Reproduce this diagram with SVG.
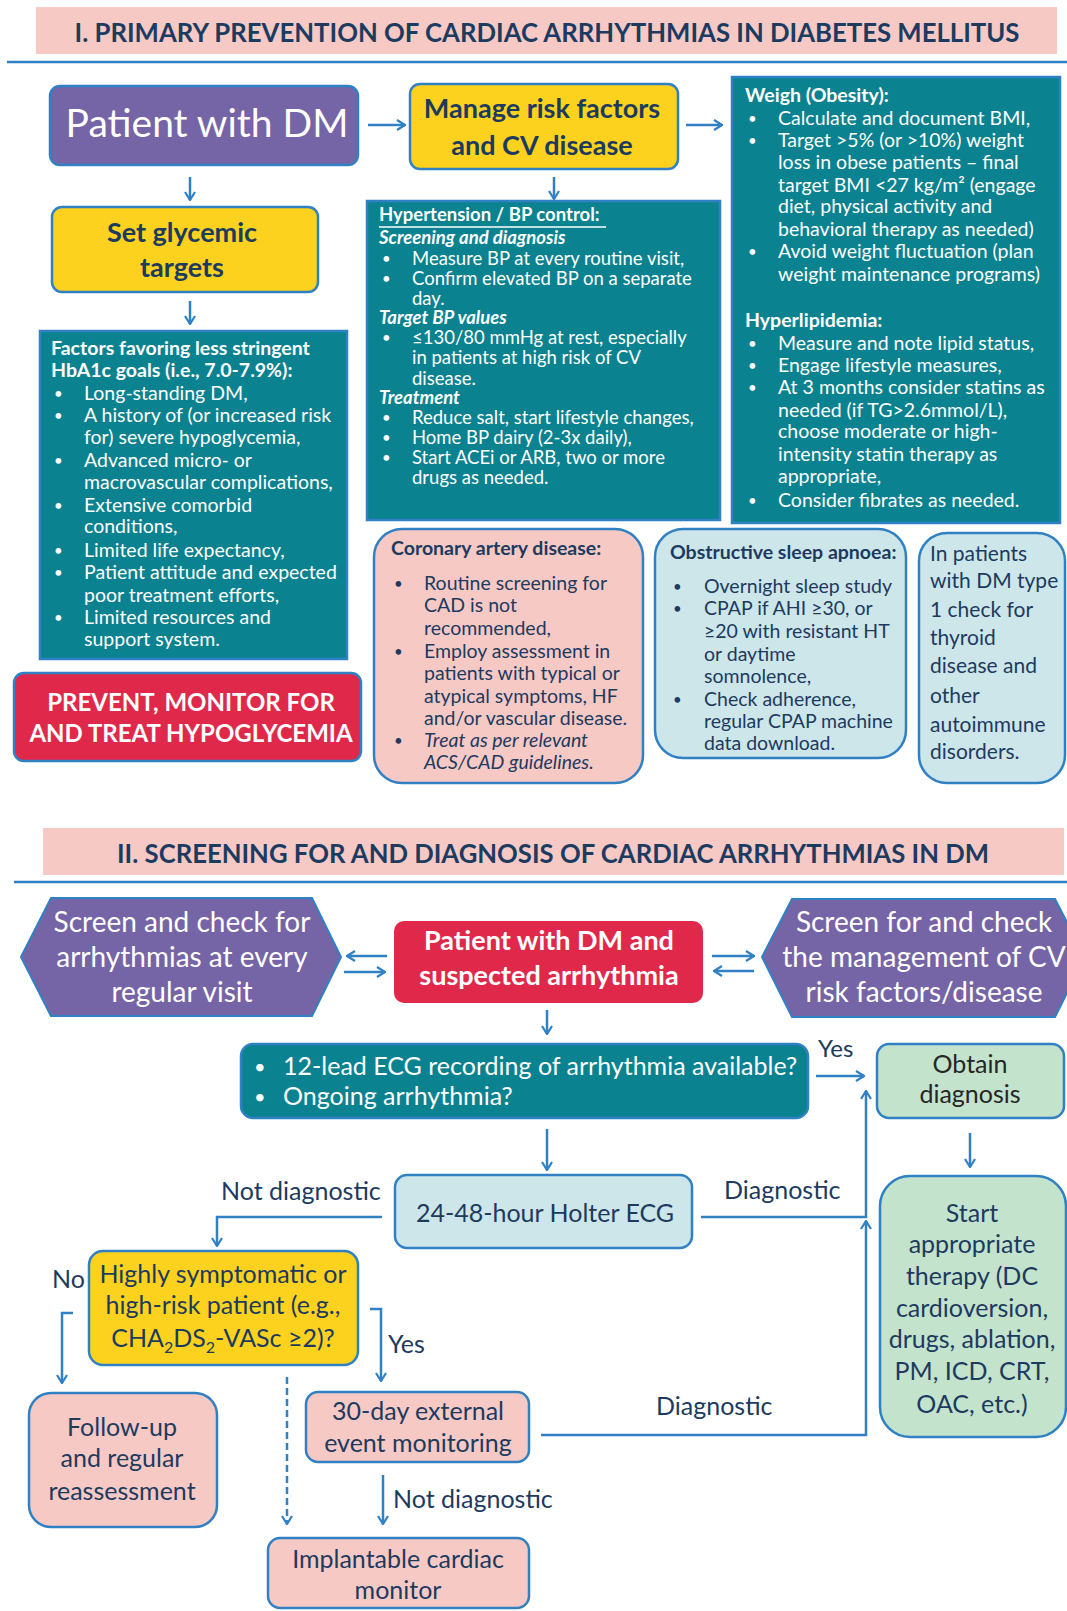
<svg xmlns="http://www.w3.org/2000/svg" width="1067" height="1611" viewBox="0 0 1067 1611">
<style>
text{font-family:Lato,"Liberation Sans",sans-serif}
.ttl{font-size:27px;font-weight:700;fill:#1c3b61}
.band{fill:#f6c9c5}
.rule{stroke:#3080c4;stroke-width:2.5}
.bx{stroke:#3080c4;stroke-width:2.5}
.purple{fill:#7564a6}
.yellow{fill:#fcd21f}
.teal{fill:#0b8290}
.red{fill:#e0294a}
.pink{fill:#f6c9c5}
.lblue{fill:#cde6ea}
.green{fill:#c3e3cc}
.w{fill:#fff}
.n{fill:#1d3a5f}
.dk{fill:#262626}
.b{font-weight:700}
.bi{font-weight:700;font-style:italic}
.i{font-style:italic}
.s19{font-size:19.5px}
.s19 .bu{font-size:15px}
.s18{font-size:18.5px}
.s18 .bu{font-size:15px}
.s21{font-size:21px}
.s25{font-size:25px}
.s27{font-size:27px}
.s28{font-size:28px}
.mid{text-anchor:middle}
.ln{fill:none;stroke:#3080c4;stroke-width:2.5}
.dash{stroke-dasharray:7 4}
</style>
<defs>
<marker id="arr" viewBox="0 0 10 12" refX="9" refY="6" markerWidth="10" markerHeight="12" orient="auto" markerUnits="userSpaceOnUse">
<path d="M1,1 L9,6 L1,11" fill="none" stroke="#3080c4" stroke-width="2.2"/>
</marker>
</defs>

<!-- Section I header -->
<g id="header1">
<rect class="band" x="36" y="7" width="1021" height="47"/>
<text class="ttl" x="547" y="42" text-anchor="middle" textLength="945" lengthAdjust="spacingAndGlyphs">I. PRIMARY PREVENTION OF CARDIAC ARRHYTHMIAS IN DIABETES MELLITUS</text>
<line class="rule" x1="7" y1="62" x2="1067" y2="62"/>
</g>

<g id="patient-dm">
<rect class="bx purple" x="50" y="86" width="308" height="79" rx="10"/>
<text class="w mid" x="207" y="137" font-size="39">Patient with DM</text>
</g>

<g id="manage-risk">
<rect class="bx yellow" x="410" y="84" width="268" height="85" rx="10"/>
<text class="n b mid s27" x="542" y="118">Manage risk factors</text>
<text class="n b mid s27" x="542" y="155">and CV disease</text>
</g>

<g id="weigh-lipid">
<rect class="bx teal" x="732" y="77" width="328" height="446"/>
<g class="w s19">
<text class="b" x="745" y="102">Weigh (Obesity):</text>
<text class="bu" x="748" y="124">•</text><text x="778" y="125">Calculate and document BMI,</text>
<text class="bu" x="748" y="146">•</text><text x="778" y="147">Target &gt;5% (or &gt;10%) weight</text>
<text x="778" y="169">loss in obese patients – final</text>
<text x="778" y="192">target BMI &lt;27 kg/m² (engage</text>
<text x="778" y="213">diet, physical activity and</text>
<text x="778" y="236">behavioral therapy as needed)</text>
<text class="bu" x="748" y="257">•</text><text x="778" y="258">Avoid weight fluctuation (plan</text>
<text x="778" y="281">weight maintenance programs)</text>
<text class="b" x="745" y="327">Hyperlipidemia:</text>
<text class="bu" x="748" y="349">•</text><text x="778" y="350">Measure and note lipid status,</text>
<text class="bu" x="748" y="371">•</text><text x="778" y="372">Engage lifestyle measures,</text>
<text class="bu" x="748" y="393">•</text><text x="778" y="394">At 3 months consider statins as</text>
<text x="778" y="417">needed (if TG&gt;2.6mmol/L),</text>
<text x="778" y="438">choose moderate or high-</text>
<text x="778" y="461">intensity statin therapy as</text>
<text x="778" y="483">appropriate,</text>
<text class="bu" x="748" y="506">•</text><text x="778" y="507">Consider fibrates as needed.</text>
</g>
</g>

<g id="set-glycemic">
<rect class="bx yellow" x="52" y="207" width="266" height="85" rx="10"/>
<text class="n b mid s27" x="182" y="242">Set glycemic</text>
<text class="n b mid s27" x="182" y="277">targets</text>
</g>

<g id="factors">
<rect class="bx teal" x="40" y="331" width="307" height="328"/>
<g class="w s19">
<text class="b" x="51" y="355">Factors favoring less stringent</text>
<text class="b" x="51" y="377">HbA1c goals (i.e., 7.0-7.9%):</text>
<text class="bu" x="54" y="399">•</text><text x="84" y="400">Long-standing DM,</text>
<text class="bu" x="54" y="421">•</text><text x="84" y="422">A history of (or increased risk</text>
<text x="84" y="444">for) severe hypoglycemia,</text>
<text class="bu" x="54" y="466">•</text><text x="84" y="467">Advanced micro- or</text>
<text x="84" y="489">macrovascular complications,</text>
<text class="bu" x="54" y="511">•</text><text x="84" y="512">Extensive comorbid</text>
<text x="84" y="533">conditions,</text>
<text class="bu" x="54" y="556">•</text><text x="84" y="557">Limited life expectancy,</text>
<text class="bu" x="54" y="578">•</text><text x="84" y="579">Patient attitude and expected</text>
<text x="84" y="602">poor treatment efforts,</text>
<text class="bu" x="54" y="623">•</text><text x="84" y="624">Limited resources and</text>
<text x="84" y="646">support system.</text>
</g>
</g>

<g id="prevent-hypo">
<rect class="bx red" x="14" y="673" width="347" height="88" rx="10"/>
<text class="w b mid" x="191" y="711" font-size="24">PREVENT, MONITOR FOR</text>
<text class="w b mid" x="191" y="742" font-size="24">AND TREAT HYPOGLYCEMIA</text>
</g>

<g id="hypertension">
<rect class="bx teal" x="367" y="201" width="353" height="319"/>
<g class="w s18">
<text class="b" x="379" y="221">Hypertension / BP control:</text>
<line x1="379" y1="227" x2="606" y2="227" stroke="#fff" stroke-width="1.5"/>
<text class="bi" x="379" y="244">Screening and diagnosis</text>
<text class="bu" x="382" y="264">•</text><text x="412" y="265">Measure BP at every routine visit,</text>
<text class="bu" x="382" y="284">•</text><text x="412" y="285">Confirm elevated BP on a separate</text>
<text x="412" y="305">day.</text>
<text class="bi" x="379" y="324">Target BP values</text>
<text class="bu" x="382" y="343">•</text><text x="412" y="344">≤130/80 mmHg at rest, especially</text>
<text x="412" y="364">in patients at high risk of CV</text>
<text x="412" y="385">disease.</text>
<text class="bi" x="379" y="404">Treatment</text>
<text class="bu" x="382" y="423">•</text><text x="412" y="424">Reduce salt, start lifestyle changes,</text>
<text class="bu" x="382" y="443">•</text><text x="412" y="444">Home BP dairy (2-3x daily),</text>
<text class="bu" x="382" y="463">•</text><text x="412" y="464">Start ACEi or ARB, two or more</text>
<text x="412" y="484">drugs as needed.</text>
</g>
</g>

<g id="cad">
<rect class="bx pink" x="374" y="529" width="269" height="254" rx="28"/>
<g class="n s19">
<text class="b" x="391" y="555">Coronary artery disease:</text>
<text class="bu" x="394" y="589">•</text><text x="424" y="590">Routine screening for</text>
<text x="424" y="612">CAD is not</text>
<text x="424" y="635">recommended,</text>
<text class="bu" x="394" y="657">•</text><text x="424" y="658">Employ assessment in</text>
<text x="424" y="680">patients with typical or</text>
<text x="424" y="703">atypical symptoms, HF</text>
<text x="424" y="725">and/or vascular disease.</text>
<text class="bu" x="394" y="746">•</text><text class="i" x="424" y="747">Treat as per relevant</text>
<text class="i" x="424" y="769">ACS/CAD guidelines.</text>
</g>
</g>

<g id="osa">
<rect class="bx lblue" x="655" y="529" width="251" height="229" rx="28"/>
<g class="n s19">
<text class="b" x="670" y="559">Obstructive sleep apnoea:</text>
<text class="bu" x="673" y="592">•</text><text x="704" y="593">Overnight sleep study</text>
<text class="bu" x="673" y="614">•</text><text x="704" y="615">CPAP if AHI ≥30, or</text>
<text x="704" y="638">≥20 with resistant HT</text>
<text x="704" y="661">or daytime</text>
<text x="704" y="683">somnolence,</text>
<text class="bu" x="673" y="705">•</text><text x="704" y="706">Check adherence,</text>
<text x="704" y="728">regular CPAP machine</text>
<text x="704" y="750">data download.</text>
</g>
</g>

<g id="thyroid">
<rect class="bx lblue" x="919" y="533" width="146" height="250" rx="28"/>
<g class="n s21">
<text x="930" y="561">In patients</text>
<text x="930" y="588">with DM type</text>
<text x="930" y="617">1 check for</text>
<text x="930" y="645">thyroid</text>
<text x="930" y="673">disease and</text>
<text x="930" y="703">other</text>
<text x="930" y="732">autoimmune</text>
<text x="930" y="759">disorders.</text>
</g>
</g>

<!-- Section II header -->
<g id="header2">
<rect class="band" x="43" y="828" width="1021" height="47"/>
<text class="ttl" x="553" y="863" text-anchor="middle" textLength="872" lengthAdjust="spacingAndGlyphs">II. SCREENING FOR AND DIAGNOSIS OF CARDIAC ARRHYTHMIAS IN DM</text>
<line class="rule" x1="14" y1="882" x2="1067" y2="882"/>
</g>

<g id="screen-visit">
<polygon class="purple" stroke="#3080c4" stroke-width="2" points="21,957 51,898 312,898 341,957 312,1016 51,1016"/>
<text class="w mid s28" x="182" y="932">Screen and check for</text>
<text class="w mid s28" x="182" y="967">arrhythmias at every</text>
<text class="w mid s28" x="182" y="1002">regular visit</text>
</g>

<g id="patient-arrhythmia">
<rect class="red" x="394" y="921" width="309" height="82" rx="10"/>
<text class="w b mid s27" x="549" y="950">Patient with DM and</text>
<text class="w b mid s27" x="549" y="985">suspected arrhythmia</text>
</g>

<g id="screen-cv">
<polygon class="purple" stroke="#3080c4" stroke-width="2" points="762,957 792,899 1055,899 1085,957 1055,1017 792,1017"/>
<text class="w mid s28" x="924" y="932">Screen for and check</text>
<text class="w mid s28" x="924" y="967">the management of CV</text>
<text class="w mid s28" x="924" y="1002">risk factors/disease</text>
</g>

<g id="ecg-question">
<rect class="bx teal" x="241" y="1044" width="567" height="74" rx="12"/>
<text class="w" x="254" y="1074" font-size="20">•</text>
<text class="w" x="283" y="1075" font-size="25">12-lead ECG recording of arrhythmia available?</text>
<text class="w" x="254" y="1104" font-size="20">•</text>
<text class="w" x="283" y="1105" font-size="25">Ongoing arrhythmia?</text>
</g>

<g id="obtain-diagnosis">
<rect class="bx green" x="877" y="1044" width="187" height="74" rx="12"/>
<text class="dk mid s25" x="970" y="1073">Obtain</text>
<text class="dk mid s25" x="970" y="1103">diagnosis</text>
</g>

<g id="holter">
<rect class="bx lblue" x="395" y="1175" width="297" height="73" rx="12"/>
<text class="n mid s25" x="545" y="1222">24-48-hour Holter ECG</text>
</g>

<g id="start-therapy">
<rect class="bx green" x="880" y="1176" width="186" height="261" rx="30"/>
<g class="n mid s25">
<text x="972" y="1222">Start</text>
<text x="972" y="1253">appropriate</text>
<text x="972" y="1285">therapy (DC</text>
<text x="972" y="1317">cardioversion,</text>
<text x="972" y="1348">drugs, ablation,</text>
<text x="972" y="1380">PM, ICD, CRT,</text>
<text x="972" y="1413">OAC, etc.)</text>
</g>
</g>

<g id="high-risk">
<rect class="bx yellow" x="89" y="1251" width="269" height="114" rx="14"/>
<text class="n mid s25" x="223" y="1283">Highly symptomatic or</text>
<text class="n mid s25" x="223" y="1314">high-risk patient (e.g.,</text>
<text class="n mid s25" x="223" y="1347">CHA<tspan font-size="16" dy="6">2</tspan><tspan dy="-6">DS</tspan><tspan font-size="16" dy="6">2</tspan><tspan dy="-6">-VASc ≥2)?</tspan></text>
</g>

<g id="follow-up">
<rect class="bx pink" x="29" y="1393" width="188" height="134" rx="22"/>
<text class="n mid s25" x="122" y="1436">Follow-up</text>
<text class="n mid s25" x="122" y="1467">and regular</text>
<text class="n mid s25" x="122" y="1500">reassessment</text>
</g>

<g id="event-monitor">
<rect class="bx pink" x="306" y="1392" width="223" height="70" rx="12"/>
<text class="n mid s25" x="418" y="1420">30-day external</text>
<text class="n mid s25" x="418" y="1452">event monitoring</text>
</g>

<g id="implantable">
<rect class="bx pink" x="268" y="1538" width="261" height="70" rx="12"/>
<text class="n mid s25" x="398" y="1568">Implantable cardiac</text>
<text class="n mid s25" x="398" y="1599">monitor</text>
</g>

<g id="connectors">
<line class="ln" x1="368" y1="125" x2="405" y2="125" marker-end="url(#arr)"/>
<line class="ln" x1="686" y1="125" x2="722" y2="125" marker-end="url(#arr)"/>
<line class="ln" x1="190" y1="177" x2="190" y2="200" marker-end="url(#arr)"/>
<line class="ln" x1="190" y1="301" x2="190" y2="324" marker-end="url(#arr)"/>
<line class="ln" x1="554" y1="177" x2="554" y2="199" marker-end="url(#arr)"/>
<line class="ln" x1="387" y1="956" x2="347" y2="956" marker-end="url(#arr)"/>
<line class="ln" x1="344" y1="972" x2="385" y2="972" marker-end="url(#arr)"/>
<line class="ln" x1="712" y1="956" x2="754" y2="956" marker-end="url(#arr)"/>
<line class="ln" x1="754" y1="971" x2="714" y2="971" marker-end="url(#arr)"/>
<line class="ln" x1="547" y1="1010" x2="547" y2="1034" marker-end="url(#arr)"/>
<line class="ln" x1="816" y1="1076" x2="864" y2="1076" marker-end="url(#arr)"/>
<line class="ln" x1="547" y1="1129" x2="547" y2="1170" marker-end="url(#arr)"/>
<line class="ln" x1="970" y1="1133" x2="970" y2="1167" marker-end="url(#arr)"/>
<polyline class="ln" points="382,1217 217,1217 217,1246" marker-end="url(#arr)"/>
<polyline class="ln" points="701,1217 866,1217 866,1091" marker-end="url(#arr)"/>
<polyline class="ln" points="541,1435 866,1435 866,1221" marker-end="url(#arr)"/>
<polyline class="ln" points="73,1313 62,1313 62,1383" marker-end="url(#arr)"/>
<polyline class="ln" points="370,1309 381,1309 381,1381" marker-end="url(#arr)"/>
<line class="ln dash" x1="287" y1="1377" x2="287" y2="1524" marker-end="url(#arr)"/>
<line class="ln" x1="383" y1="1475" x2="383" y2="1524" marker-end="url(#arr)"/>
<g class="n s25">
<text x="818" y="1057" font-size="24">Yes</text>
<text x="221" y="1200">Not diagnostic</text>
<text x="724" y="1199">Diagnostic</text>
<text x="656" y="1415">Diagnostic</text>
<text x="52" y="1288">No</text>
<text x="388" y="1353">Yes</text>
<text x="393" y="1508">Not diagnostic</text>
</g>
</g>
</svg>
